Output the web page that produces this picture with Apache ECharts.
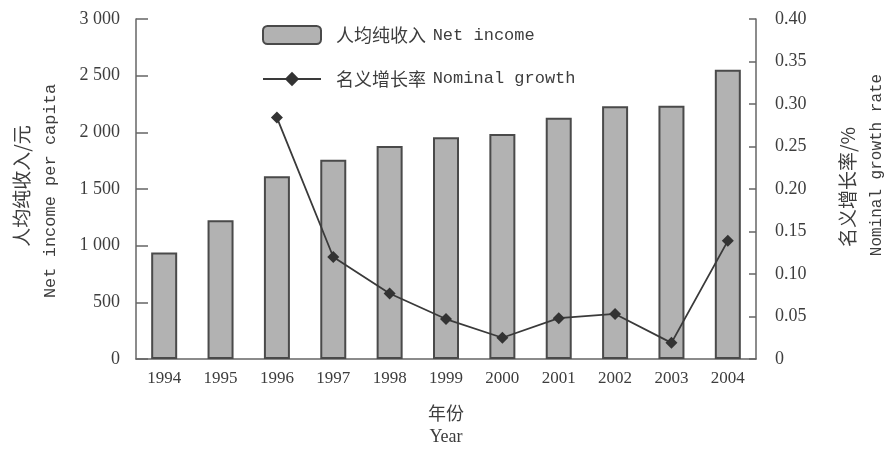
<!DOCTYPE html>
<html>
<head>
<meta charset="utf-8">
<script src="https://cdn.jsdelivr.net/npm/echarts@6/dist/echarts.min.js"></script>
<style>
html,body{margin:0;padding:0;background:#fff;overflow:hidden;}
#chart{width:887px;height:451px;}
</style>
</head>
<body>
<div id="chart"></div>
<script>
var years = ['1994','1995','1996','1997','1998','1999','2000','2001','2002','2003','2004'];
var netIncome = [940, 1224, 1612, 1759, 1879, 1957, 1985, 2129, 2230, 2235, 2552];
var nominalGrowth = [null, null, 0.284, 0.120, 0.077, 0.047, 0.025, 0.048, 0.053, 0.019, 0.139];
var leftTickLabels = {0:'0',500:'500',1000:'1 000',1500:'1 500',2000:'2 000',2500:'2 500',3000:'3 000'};
var rightTickLabels = ['0','0.05','0.10','0.15','0.20','0.25','0.30','0.35','0.40'];

var TXT = '#3d3d3d';
var SERIF = '"Liberation Serif", "DejaVu Serif", serif';
var MONO = '"Liberation Mono", "DejaVu Sans Mono", monospace';
var CJK = '"Noto Sans CJK SC", sans-serif';

var chart = echarts.init(document.getElementById('chart'), null, {renderer:'canvas', width: 887, height: 451});
chart.setOption({
  backgroundColor: '#ffffff',
  animation: false,
  grid: {left: 136, width: 620, top: 19, height: 349, containLabel: false},
  legend: {
    orient: 'vertical',
    left: 257, top: 20,
    itemWidth: 58, itemHeight: 18, itemGap: 25,
    textStyle: {
      color: TXT, padding: [0,0,0,10],
      rich: {
        zh: {fontFamily: CJK, fontSize: 18, color: TXT},
        en: {fontFamily: MONO, fontSize: 17, color: TXT}
      }
    },
    formatter: function (name) {
      var p = name.split('|');
      return '{zh|' + p[0] + '}  {en|' + p[1] + '}';
    },
    data: ['人均纯收入|Net income', '名义增长率|Nominal growth']
  },
  xAxis: {
    type: 'category',
    data: years,
    axisLine: {lineStyle: {color: '#666', width: 1.5}},
    axisTick: {show: false},
    axisLabel: {color: TXT, fontFamily: SERIF, fontSize: 17, margin: 11},
    name: '{zh|年份}\n{en|Year}',
    nameLocation: 'middle',
    nameGap: 42,
    nameTextStyle: {
      rich: {
        zh: {fontFamily: CJK, fontSize: 18, color: TXT, lineHeight: 24, align: 'center'},
        en: {fontFamily: SERIF, fontSize: 18, color: TXT, lineHeight: 24, align: 'center'}
      }
    }
  },
  yAxis: [
    {
      type: 'value', min: 0, max: 3000, interval: 500,
      axisLine: {show: true, lineStyle: {color: '#666', width: 1.5}},
      axisTick: {show: true, inside: true, length: 12, lineStyle: {color: '#666', width: 1.5}},
      splitLine: {show: false},
      axisLabel: {color: TXT, fontFamily: SERIF, fontSize: 18, margin: 16,
        formatter: function (v) { return leftTickLabels[v]; }}
    },
    {
      type: 'value', min: 0, max: 0.4, interval: 0.05, position: 'right',
      axisLine: {show: true, lineStyle: {color: '#666', width: 1.5}},
      axisTick: {show: true, inside: true, length: 7, lineStyle: {color: '#666', width: 1.5}},
      splitLine: {show: false},
      axisLabel: {color: TXT, fontFamily: SERIF, fontSize: 18, margin: 19,
        formatter: function (v) { return rightTickLabels[Math.round(v / 0.05)]; }}
    }
  ],
  series: [
    {
      name: '人均纯收入|Net income',
      type: 'bar',
      data: netIncome,
      barWidth: 26,
      itemStyle: {color: '#b2b2b2', borderColor: '#4a4a4a', borderWidth: 2}
    },
    {
      name: '名义增长率|Nominal growth',
      type: 'line',
      yAxisIndex: 1,
      data: nominalGrowth,
      symbol: 'diamond',
      symbolSize: 12,
      itemStyle: {color: '#333'},
      lineStyle: {color: '#3a3a3a', width: 1.8}
    }
  ],
  graphic: [
    {type: 'text', x: 22, y: 186, rotation: Math.PI / 2,
      style: {text: '人均纯收入/元', font: '19px ' + CJK, fill: TXT, align: 'center', verticalAlign: 'middle'}},
    {type: 'text', x: 50, y: 191, rotation: Math.PI / 2,
      style: {text: 'Net income per capita', font: '17px ' + MONO, fill: TXT, align: 'center', verticalAlign: 'middle'}},
    {type: 'text', x: 848, y: 187, rotation: Math.PI / 2,
      style: {text: '名义增长率/%', font: '19px ' + CJK, fill: TXT, align: 'center', verticalAlign: 'middle'}},
    {type: 'text', x: 877, y: 165, rotation: Math.PI / 2,
      style: {text: 'Nominal growth rate', font: '16px ' + MONO, fill: TXT, align: 'center', verticalAlign: 'middle'}}
  ]
});
</script>
</body>
</html>
